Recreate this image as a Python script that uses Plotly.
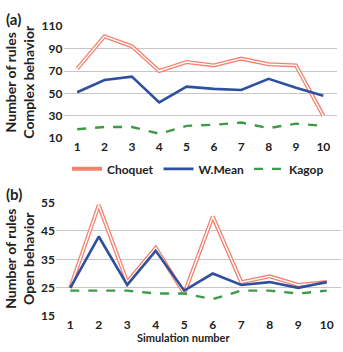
import plotly.graph_objects as go

W, H = 343, 352
sims = list(range(1, 11))

a_choquet = [72, 101, 92, 70, 78, 75, 81, 76, 75, 30]
a_wmean = [51, 62, 65, 42, 56, 54, 53, 63, 55, 48]
a_kagop = [18, 20, 20, 14, 21, 22, 24, 19, 23, 21]

b_choquet = [25, 54, 27, 39, 23, 50, 27, 29, 26, 27]
b_wmean = [25, 43, 26, 38, 24, 30, 26, 27, 25, 27]
b_kagop = [24, 24, 24, 23, 23, 21, 24, 24, 23, 24]

a_ticks = [10, 30, 50, 70, 90, 110]
b_ticks = [15, 25, 35, 45, 55]

SALMON = "#F2826F"
BLUE = "#2F4F9F"
GREEN = "#3E9B45"
FONT = "Lato"

def px_x(p):
    return p / W

def px_y(p):
    return 1 - p / H

fig = go.Figure()

def add_panel(xa, ya, ch, wm, kg, show):
    fig.add_trace(go.Scatter(x=sims, y=ch, mode="lines", name="Choquet",
                             line=dict(color=SALMON, width=4.0), xaxis=xa, yaxis=ya,
                             showlegend=show, legendgroup="c"))
    fig.add_trace(go.Scatter(x=sims, y=ch, mode="lines", name="Choquet",
                             line=dict(color="white", width=1.4), xaxis=xa, yaxis=ya,
                             showlegend=False, legendgroup="c", hoverinfo="skip"))
    fig.add_trace(go.Scatter(x=sims, y=wm, mode="lines", name="W.Mean",
                             line=dict(color=BLUE, width=2.6), xaxis=xa, yaxis=ya,
                             showlegend=show, legendgroup="w"))
    fig.add_trace(go.Scatter(x=sims, y=kg, mode="lines", name="Kagop",
                             line=dict(color=GREEN, width=2.4, dash="dash"), xaxis=xa, yaxis=ya,
                             showlegend=show, legendgroup="k"))

add_panel("x", "y", a_choquet, a_wmean, a_kagop, True)
add_panel("x2", "y2", b_choquet, b_wmean, b_kagop, False)

tickfont = dict(family=FONT, size=12, color="#222222", weight="bold")
axis_common = dict(showline=False, zeroline=False, ticks="", tickfont=tickfont)

fig.update_layout(
    width=W, height=H,
    margin=dict(l=0, r=0, t=0, b=0),
    paper_bgcolor="white", plot_bgcolor="white",
    font=dict(family=FONT, color="#222222"),
    xaxis=dict(domain=[px_x(63.5), px_x(337)], range=[0.5, 10.5], tickvals=sims,
               showgrid=False, anchor="y", **axis_common),
    yaxis=dict(domain=[px_y(136), px_y(19)], range=[10, 110], tickvals=a_ticks,
               showgrid=True, gridcolor="#C6C6C6", gridwidth=1, anchor="x", **axis_common),
    xaxis2=dict(domain=[px_x(56), px_x(341)], range=[0.5, 10.5], tickvals=sims,
                showgrid=False, anchor="y2", **axis_common),
    yaxis2=dict(domain=[px_y(322), px_y(203)], range=[15, 55], tickvals=b_ticks,
                showgrid=True, gridcolor="#C6C6C6", gridwidth=1, anchor="x2", **axis_common),
    legend=dict(orientation="h", x=px_x(198), xanchor="center", y=px_y(168), yanchor="middle",
                font=dict(family=FONT, size=12, color="#222222", weight="bold"), itemwidth=30,
                bgcolor="rgba(0,0,0,0)", tracegroupgap=0),
    showlegend=True,
)

ann = [
    dict(text="<b>(a)</b>", x=px_x(4), y=px_y(11), xanchor="left", yanchor="middle",
         font=dict(size=15)),
    dict(text="<b>(b)</b>", x=px_x(4), y=px_y(194), xanchor="left", yanchor="middle",
         font=dict(size=15)),
    dict(text="<b>Number of rules<br>Complex behavior</b>", x=px_x(20), y=px_y(77),
         textangle=-90, xanchor="center", yanchor="middle", font=dict(size=14)),
    dict(text="<b>Number of rules<br>Open behavior</b>", x=px_x(20), y=px_y(262),
         textangle=-90, xanchor="center", yanchor="middle", font=dict(size=14)),
    dict(text="Simulation number", x=px_x(183), y=0, xanchor="center",
         yanchor="bottom", borderpad=0, font=dict(size=11, weight="bold")),
]
for a in ann:
    a.update(xref="paper", yref="paper", showarrow=False)
    a["font"].update(family=FONT, color="#222222")
fig.update_layout(annotations=ann)

fig.write_html("out.html")
